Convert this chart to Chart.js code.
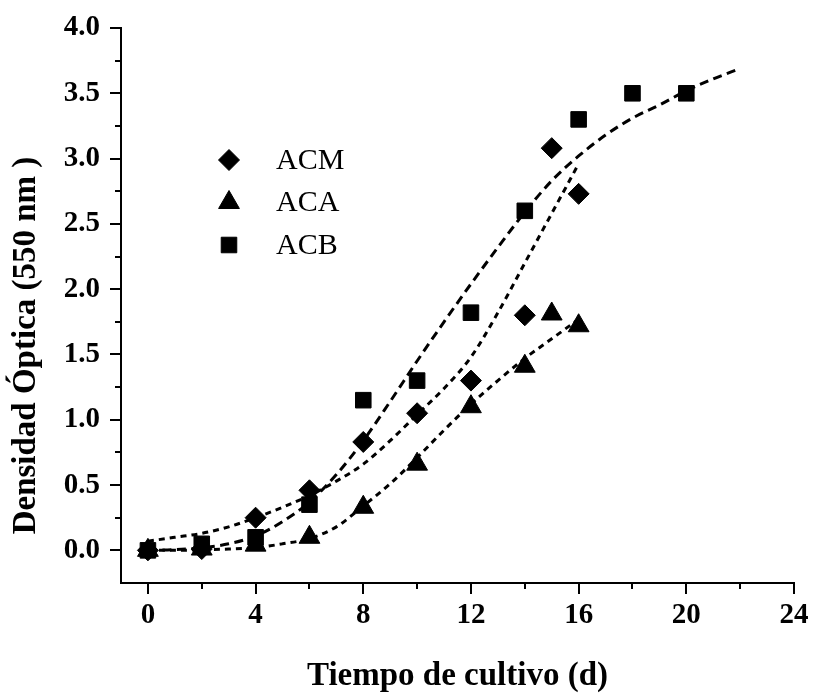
<!DOCTYPE html>
<html>
<head>
<meta charset="utf-8">
<script src="https://cdn.jsdelivr.net/npm/chart.js@4.4.0/dist/chart.umd.min.js"></script>
<style>
  html, body { margin: 0; padding: 0; background: #fff; }
  #wrap { width: 813px; height: 696px; }
</style>
</head>
<body>
<div id="wrap"><canvas id="curva"></canvas></div>
<script>
// densidad óptica medida por día de cultivo
const diasACM = [0, 2, 4, 6, 8, 10, 12, 14, 15, 16];
const acm = [0.0, 0.01, 0.25, 0.46, 0.83, 1.05, 1.30, 1.80, 3.08, 2.73];
const diasACA = [0, 2, 4, 6, 8, 10, 12, 14, 15, 16];
const aca = [0.0, 0.01, 0.04, 0.10, 0.33, 0.66, 1.10, 1.41, 1.81, 1.72];
const diasACB = [0, 2, 4, 6, 8, 10, 12, 14, 16, 18, 20];
const acb = [0.0, 0.05, 0.10, 0.35, 1.15, 1.30, 1.82, 2.60, 3.30, 3.50, 3.50];

// curvas de ajuste
const ajusteDiasACM = [0, 1, 2, 3, 4, 5, 6, 7, 8, 9, 10, 11, 12, 13, 14, 15, 16];
const ajusteACM = [0.07, 0.10, 0.13, 0.18, 0.25, 0.33, 0.42, 0.53, 0.66, 0.84, 1.04, 1.24, 1.48, 1.82, 2.20, 2.58, 2.96];
const ajusteDiasACA = [0, 1, 2, 3, 4, 5, 6, 7, 8, 9, 10, 11, 12, 13, 14, 15, 16];
const ajusteACA = [0.0, 0.0, 0.005, 0.01, 0.02, 0.05, 0.09, 0.18, 0.34, 0.51, 0.71, 0.92, 1.12, 1.30, 1.47, 1.62, 1.77];
const ajusteDiasACB = [0, 1, 2, 3, 4, 5, 6, 7, 8, 9, 10, 11, 12, 13, 14, 15, 16, 17, 18, 19, 20, 21, 22];
const ajusteACB = [0.0, 0.005, 0.02, 0.05, 0.11, 0.22, 0.37, 0.58, 0.84, 1.14, 1.45, 1.75, 2.04, 2.32, 2.59, 2.83, 3.02, 3.18, 3.31, 3.41, 3.52, 3.61, 3.69];

// marcas de los ejes
const xTicks = [0, 4, 8, 12, 16, 20, 24];
const xMenores = [2, 6, 10, 14, 18, 22];
const yTicks = [0, 0.5, 1.0, 1.5, 2.0, 2.5, 3.0, 3.5, 4.0];
const yMenores = [0.25, 0.75, 1.25, 1.75, 2.25, 2.75, 3.25, 3.75];

const tituloX = 'Tiempo de cultivo (d)';
const tituloY = 'Densidad Óptica (550 nm )';

const serif = '"Liberation Serif", "Times New Roman", serif';
const negro = '#000';

function puntos(xs, ys) {
    return xs.map((v, i) => ({ x: v, y: ys[i] }));
}

const series = [
    { label: 'ACM', dias: diasACM, valores: acm, estilo: 'rectRot', radio: 10.5 },
    { label: 'ACA', dias: diasACA, valores: aca, estilo: 'triangle', radio: 12 },
    { label: 'ACB', dias: diasACB, valores: acb, estilo: 'rect', radio: 11 }
];

const ajustes = [
    { dias: ajusteDiasACM, valores: ajusteACM, dash: [6, 5] },
    { dias: ajusteDiasACA, valores: ajusteACA, dash: [6, 5] },
    { dias: ajusteDiasACB, valores: ajusteACB, dash: [9, 5.5] }
];

const datasets = series.map(s => ({
    label: s.label,
    data: puntos(s.dias, s.valores),
    showLine: false,
    pointStyle: s.estilo,
    pointRadius: s.radio,
    pointBorderWidth: 1,
    backgroundColor: negro,
    borderColor: negro
})).concat(ajustes.map(a => ({
    data: puntos(a.dias, a.valores),
    showLine: true,
    pointRadius: 0,
    borderColor: negro,
    borderWidth: 3,
    borderDash: a.dash,
    cubicInterpolationMode: 'monotone',
    fill: false
})));

// marcas menores, leyenda y título vertical
const extras = {
    id: 'extras',
    afterDraw(chart) {
        const ctx = chart.ctx;
        const area = chart.chartArea;
        const sx = chart.scales.x;
        const sy = chart.scales.y;

        ctx.save();
        ctx.strokeStyle = negro;
        ctx.lineWidth = 2;
        ctx.beginPath();
        xMenores.forEach(v => {
            const px = Math.round(sx.getPixelForValue(v));
            ctx.moveTo(px, area.bottom);
            ctx.lineTo(px, area.bottom + 6);
        });
        yMenores.forEach(v => {
            const py = Math.round(sy.getPixelForValue(v));
            ctx.moveTo(area.left, py);
            ctx.lineTo(area.left - 6, py);
        });
        ctx.stroke();

        // leyenda
        ctx.fillStyle = negro;
        ctx.lineWidth = 1;
        ctx.font = '30px ' + serif;
        ctx.textAlign = 'left';
        ctx.textBaseline = 'middle';
        series.forEach((s, i) => {
            const cx = area.left + 108;
            const cy = area.top + 132 + i * 42.5;
            Chart.helpers.drawPoint(ctx, {
                pointStyle: s.estilo,
                radius: s.radio,
                borderWidth: 1,
                rotation: 0
            }, cx, cy);
            ctx.fillText(s.label, cx + 47, cy + 1);
        });

        // título del eje y
        ctx.translate(26, (area.top + area.bottom) / 2 + 40);
        ctx.rotate(-Math.PI / 2);
        ctx.font = 'bold 33px ' + serif;
        ctx.textAlign = 'center';
        ctx.fillText(tituloY, 0, 0);
        ctx.restore();
    }
};

const fuenteTicks = { family: serif, size: 29, weight: 'bold' };

new Chart(document.getElementById('curva'), {
    type: 'scatter',
    data: { datasets: datasets },
    options: {
        responsive: true,
        maintainAspectRatio: false,
        animation: false,
        events: [],
        layout: { padding: { top: 28, right: 19, bottom: 0, left: 0 } },
        plugins: {
            legend: { display: false },
            tooltip: { enabled: false }
        },
        scales: {
            x: {
                type: 'linear',
                min: -1,
                max: 24,
                afterBuildTicks: s => { s.ticks = xTicks.map(v => ({ value: v })); },
                afterFit: s => { s.height = 113; },
                ticks: { font: fuenteTicks, color: negro, padding: 4, maxRotation: 0, callback: v => v },
                grid: { drawOnChartArea: false, tickLength: 11, color: negro, lineWidth: 2 },
                border: { color: negro, width: 2 },
                title: {
                    display: true,
                    text: tituloX,
                    color: negro,
                    font: { family: serif, size: 33, weight: 'bold' },
                    padding: 0
                }
            },
            y: {
                type: 'linear',
                min: -0.25,
                max: 4,
                afterBuildTicks: s => { s.ticks = yTicks.map(v => ({ value: v })); },
                afterFit: s => { s.width = 121; },
                ticks: { font: fuenteTicks, color: negro, padding: 10, callback: v => v.toFixed(1) },
                grid: { drawOnChartArea: false, tickLength: 11, color: negro, lineWidth: 2 },
                border: { color: negro, width: 2 }
            }
        }
    },
    plugins: [extras]
});
</script>
</body>
</html>
